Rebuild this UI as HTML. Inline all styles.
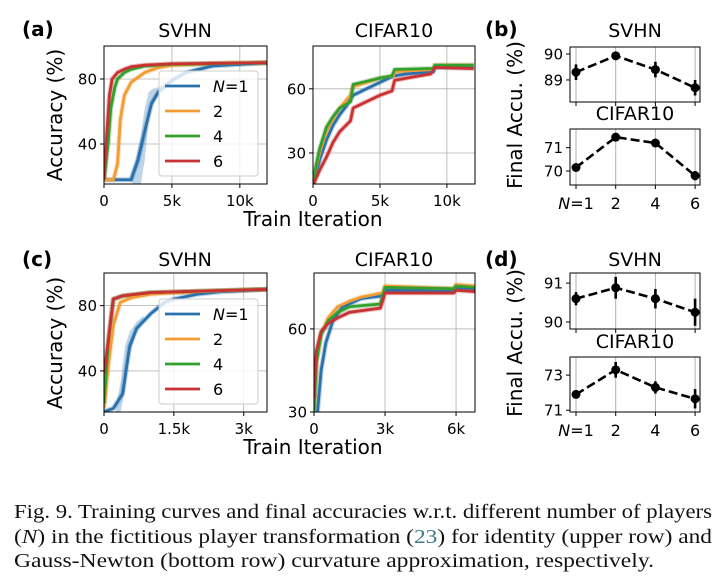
<!DOCTYPE html>
<html><head><meta charset="utf-8"><style>
html,body{margin:0;padding:0;background:#fff;}
svg{display:block;font-family:"DejaVu Sans","Liberation Sans",sans-serif;}
.cap{font-family:"Liberation Serif",serif;font-size:20px;fill:#111;}
</style></head><body>
<svg id="fig" width="726" height="583" viewBox="0 0 726 583" xmlns="http://www.w3.org/2000/svg">
<g id="plots"></g>
<text class="cap" x="14" y="518" textLength="698" lengthAdjust="spacingAndGlyphs">Fig. 9.   Training curves and final accuracies w.r.t. different number of players</text>
<text class="cap" x="14" y="543" textLength="698" lengthAdjust="spacingAndGlyphs">(<tspan font-style="italic">N</tspan>) in the fictitious player transformation (<tspan fill="#3b7a8a">23</tspan>) for identity (upper row) and</text>
<text class="cap" x="14" y="567" textLength="640" lengthAdjust="spacingAndGlyphs">Gauss-Newton (bottom row) curvature approximation, respectively.</text>
</svg>
<script>
const seriesNames=["N=1","2","4","6"];
const colors=["#2a72ad","#f39c34","#33a02c","#c93232"];
// (a) SVHN, x in k iterations
const aSvhn1=[[0,18],[1.5,18],[2,18],[2.5,30],[3,48],[3.5,65],[4,72],[5,79],[6,84],[8,88],[10,89],[12,90]];
const aSvhn2=[[0,18],[0.7,18],[1,28],[1.2,55],[1.5,70],[2,78],[3,84],[4,87],[5,88.5],[8,89.5],[12,90]];
const aSvhn4=[[0,18],[0.3,40],[0.5,62],[0.8,75],[1,80],[1.5,84],[2,86],[3,88],[5,89],[12,90]];
const aSvhn6=[[0,18],[0.2,45],[0.4,70],[0.6,80],[1,84],[1.5,86],[2,87.5],[3,88.5],[5,89.3],[12,90]];
// N=1 spread band: [x, low, high]
const aSvhn1Band=[[1.8,18,18],[2.3,15,30],[2.7,15,45],[3,30,62],[3.3,55,72],[3.6,64,74],[4,70,75],[4.5,76,78],[5,78,80]];
const aCifar1=[[0,15],[0.5,27],[1,36],[1.5,43],[2,48],[2.5,52],[3,57],[4,60],[5,63],[6,66],[7,67],[9,68],[9.1,70],[12,70]];
const aCifar2=[[0,17],[0.5,30],[1,40],[1.5,46],[2,51],[2.8,57],[3,61],[4,63],[5,65],[6,66],[6.1,68],[9,69],[9.1,71],[12,71]];
const aCifar4=[[0,17],[0.5,32],[1,42],[1.5,47],[2,51],[2.8,54],[3,62],[4,63.5],[5,65],[5.9,66],[6.1,69],[9,69.5],[9.1,71],[12,71]];
const aCifar6=[[0,15],[0.5,22],[1,28],[1.5,35],[2,40],[2.8,45],[3,51],[4,54],[5,57],[5.9,59],[6.1,64],[7,65],[8.8,67],[9.1,70],[12,69.5]];
const cSvhn1=[[0,15],[0.2,17],[0.4,26],[0.55,55],[0.7,66],[1,75],[1.3,82],[1.5,84],[2,87],[2.5,88.5],[3.5,90]];
const cSvhn2=[[0,17],[0.1,45],[0.2,68],[0.35,82],[0.6,85],[1,87],[1.5,88],[3.5,90]];
const cSvhn4=[[0,20],[0.1,60],[0.2,84],[0.4,86],[1,88],[3.5,90]];
const cSvhn6=[[0,38],[0.1,60],[0.2,84],[0.4,86],[1,88],[3.5,90]];
const cSvhn1Band=[[0.25,15,18],[0.35,14,32],[0.45,28,55],[0.55,50,64],[0.7,64,70],[0.85,70,74]];
const cCifar1=[[0.1,25],[0.3,45],[0.5,55],[0.8,63],[1.2,68],[2,71],[2.9,72],[3,74],[5.9,73.5],[6,75],[6.8,74.5]];
const cCifar2=[[0,30],[0.1,48],[0.3,58],[0.6,64],[1,68],[1.5,70],[2,71.5],[2.9,73],[3,75.5],[5.9,74.5],[6,76],[6.8,75.5]];
const cCifar4=[[0,30],[0.1,48],[0.3,58],[0.6,63],[1,66],[1.5,68],[2.8,69],[3,75],[5.9,74.5],[6,75.5],[6.8,75]];
const cCifar6=[[0,35],[0.1,52],[0.3,59],[0.6,62],[1,64],[1.5,66],[2.8,67.5],[3,73],[5.9,73],[6,74],[6.8,73.5]];
// final accuracy panels
const nLabels=["N=1","2","4","6"];
const bSvhnMean=[89.3,89.93,89.4,88.7], bSvhnErr=[0.3,0.15,0.3,0.3];
const bCifarMean=[70.15,71.45,71.2,69.8], bCifarErr=[0.08,0.12,0.1,0.2];
const dSvhnMean=[90.6,90.88,90.6,90.25], dSvhnErr=[0.17,0.28,0.25,0.35];
const dCifarMean=[71.9,73.3,72.3,71.65], dCifarErr=[0.1,0.45,0.35,0.55];

const NS="http://www.w3.org/2000/svg";
const root=document.getElementById('plots');
function el(tag,attrs,parent,text){const e=document.createElementNS(NS,tag);for(const k in attrs)e.setAttribute(k,attrs[k]);if(text!==undefined)e.textContent=text;(parent||root).appendChild(e);return e;}
function lin(d0,d1,r0,r1){return v=>r0+(v-d0)/(d1-d0)*(r1-r0);}

function linePanel(name,box,xd,yd,xticks,xtl,yticks,series,band){
  const g=el('g',{});
  
  
  const X=lin(xd[0],xd[1],box.x0,box.x1),Y=lin(yd[0],yd[1],box.y1,box.y0);
  const clipId=name+'-clip';
  const cp=el('clipPath',{id:clipId},g);el('rect',{x:box.x0,y:box.y0,width:box.x1-box.x0,height:box.y1-box.y0},cp);
  xticks.forEach((t,i)=>{
    const l=el('line',{x1:X(t),x2:X(t),y1:box.y0,y2:box.y1,stroke:'#b0b0b0','stroke-width':0.8},g);
    
    
    el('line',{x1:X(t),x2:X(t),y1:box.y1,y2:box.y1+4,stroke:'#000'},g);
    const tx=el('text',{x:X(t),y:box.y1+22,'text-anchor':'middle','font-size':15},g,xtl[i]);
    
    
  });
  yticks.forEach(t=>{
    const l=el('line',{x1:box.x0,x2:box.x1,y1:Y(t),y2:Y(t),stroke:'#b0b0b0','stroke-width':0.8},g);
    
    
    el('line',{x1:box.x0-4,x2:box.x0,y1:Y(t),y2:Y(t),stroke:'#000'},g);
    const tx=el('text',{x:box.x0-7,y:Y(t)+5.5,'text-anchor':'end','font-size':15},g,String(t));
    
    
  });
  const sg=el('g',{'clip-path':'url(#'+clipId+')'},g);
  if(band){
    const pts=band.map(b=>X(b[0])+','+Y(b[2])).concat(band.slice().reverse().map(b=>X(b[0])+','+Y(b[1]))).join(' ');
    const bp=el('polygon',{points:pts,fill:colors[0],'fill-opacity':0.3},sg);
    
    
  }
  series.forEach((s,i)=>{
    const pts=s.map(p=>X(p[0])+','+Y(p[1])).join(' ');
    const b=el('polyline',{points:pts,fill:'none',stroke:colors[i],'stroke-opacity':0.3,'stroke-width':5,'stroke-linejoin':'round'},sg);
    
    
  });
  series.forEach((s,i)=>{
    const pts=s.map(p=>X(p[0])+','+Y(p[1])).join(' ');
    const pl=el('polyline',{points:pts,fill:'none',stroke:colors[i],'stroke-width':2.8,'stroke-linejoin':'round'},sg);
    
    
  });
  const fr=el('rect',{x:box.x0,y:box.y0,width:box.x1-box.x0,height:box.y1-box.y0,fill:'none',stroke:'#000','stroke-width':1},g);
  
  
  return g;
}
function legend(x,y){
  const g=el('g',{});
  
  
  el('rect',{x:x,y:y,width:99,height:105,rx:3,fill:'#fff','fill-opacity':0.8,stroke:'#ccc'},g);
  seriesNames.forEach((n,i)=>{
    const yy=y+15+i*25;
    const e=el('g',{},g);
    
    
    el('line',{x1:x+6,x2:x+41,y1:yy,y2:yy,stroke:colors[i],'stroke-width':2.8},e);
    const t=el('text',{x:x+54,y:yy+6,'font-size':16},e);
    if(i===0){el('tspan',{'font-style':'italic'},t,'N');el('tspan',{},t,'=1');}else t.textContent=n;
  });
}
function txt(name,x,y,s,attrs){const t=el('text',Object.assign({x:x,y:y},attrs||{}),root,s);return t;}

// Row (a)
txt('panel-label-a',22,36,'(a)',{'font-size':20,'font-weight':'bold'});
txt('title-svhn-a',185,37,'SVHN',{'font-size':19,'text-anchor':'middle'});
txt('title-cifar10-a',394,37,'CIFAR10',{'font-size':19,'text-anchor':'middle'});
linePanel('svhn-curves-a',{x0:104,x1:267,y0:46,y1:184},[0,12],[15.4,100.3],[0,5,10],['0','5k','10k'],[40,80],[aSvhn1,aSvhn2,aSvhn4,aSvhn6],aSvhn1Band);
legend(159,71);
linePanel('cifar10-curves-a',{x0:313,x1:475,y0:46,y1:184},[0,12.1],[15.5,80],[0,5,10],['0','5k','10k'],[30,60],[aCifar1,aCifar2,aCifar4,aCifar6]);
txt('x-axis-title-a',313,226,'Train Iteration',{'font-size':20,'text-anchor':'middle'});
txt('y-axis-title-a',0,0,'Accuracy (%)',{'font-size':20,'text-anchor':'middle',transform:'translate(62,115) rotate(-90)'});

// Row (c)
txt('panel-label-c',22,266,'(c)',{'font-size':20,'font-weight':'bold'});
txt('title-svhn-c',185,266,'SVHN',{'font-size':19,'text-anchor':'middle'});
txt('title-cifar10-c',394,266,'CIFAR10',{'font-size':19,'text-anchor':'middle'});
linePanel('svhn-curves-c',{x0:104,x1:267,y0:273,y1:412},[0,3.5],[14.8,100],[0,1.5,3],['0','1.5k','3k'],[40,80],[cSvhn1,cSvhn2,cSvhn4,cSvhn6],cSvhn1Band);
legend(159,299);
linePanel('cifar10-curves-c',{x0:314,x1:475,y0:273,y1:412},[0,6.8],[30,80.2],[0,3,6],['0','3k','6k'],[30,60],[cCifar1,cCifar2,cCifar4,cCifar6]);
txt('x-axis-title-c',313,454,'Train Iteration',{'font-size':20,'text-anchor':'middle'});
txt('y-axis-title-c',0,0,'Accuracy (%)',{'font-size':20,'text-anchor':'middle',transform:'translate(62,343) rotate(-90)'});

// Final accuracy panels
function errPanel(name,box,yd,yticks,mean,err,showX){
  const g=el('g',{});
  
  
  const X=i=>576+i*39.7, Y=lin(yd[0],yd[1],box.y1,box.y0);
  nLabels.forEach((n,i)=>{
    el('line',{x1:X(i),x2:X(i),y1:box.y0,y2:box.y1,stroke:'#b0b0b0','stroke-width':1},g);
    el('line',{x1:X(i),x2:X(i),y1:box.y1,y2:box.y1+4,stroke:'#000'},g);
    if(showX){const t=el('text',{x:X(i),y:box.y1+24,'text-anchor':'middle','font-size':16},g);
      if(i===0){el('tspan',{'font-style':'italic'},t,'N');el('tspan',{},t,'=1');}else t.textContent=n;
      
      }
  });
  yticks.forEach(t=>{
    el('line',{x1:box.x0-4,x2:box.x0,y1:Y(t),y2:Y(t),stroke:'#000'},g);
    const tx=el('text',{x:box.x0-7,y:Y(t)+5.5,'text-anchor':'end','font-size':15},g,String(t));
    
    
  });
  const pl=el('polyline',{points:mean.map((m,i)=>X(i)+','+Y(m)).join(' '),fill:'none',stroke:'#000','stroke-width':2.6,'stroke-dasharray':'9,4'},g);
  
  
  mean.forEach((m,i)=>{
    const e=el('line',{x1:X(i),x2:X(i),y1:Y(m-err[i]),y2:Y(m+err[i]),stroke:'#000','stroke-width':2.6},g);
    
    
    const c=el('circle',{cx:X(i),cy:Y(m),r:4.5,fill:'#000'},g);
    
    
  });
  el('rect',{x:box.x0,y:box.y0,width:box.x1-box.x0,height:box.y1-box.y0,fill:'none',stroke:'#000'},g);
}
txt('panel-label-b',485,36,'(b)',{'font-size':20,'font-weight':'bold'});
txt('title-svhn-b',635,37,'SVHN',{'font-size':19,'text-anchor':'middle'});
errPanel('svhn-final-b',{x0:570,x1:700,y0:47,y1:102},[88.15,90.27],[89,90],bSvhnMean,bSvhnErr,false);
txt('title-cifar10-b',635,120,'CIFAR10',{'font-size':19,'text-anchor':'middle'});
errPanel('cifar10-final-b',{x0:570,x1:700,y0:129,y1:185},[69.4,71.8],[70,71],bCifarMean,bCifarErr,true);
txt('y-axis-title-b',0,0,'Final Accu. (%)',{'font-size':20,'text-anchor':'middle',transform:'translate(522,115) rotate(-90)'});

txt('panel-label-d',485,266,'(d)',{'font-size':20,'font-weight':'bold'});
txt('title-svhn-d',635,266,'SVHN',{'font-size':19,'text-anchor':'middle'});
errPanel('svhn-final-d',{x0:570,x1:700,y0:273,y1:329},[89.82,91.26],[90,91],dSvhnMean,dSvhnErr,false);
txt('title-cifar10-d',635,348,'CIFAR10',{'font-size':19,'text-anchor':'middle'});
errPanel('cifar10-final-d',{x0:570,x1:700,y0:357,y1:412},[70.9,74.03],[71,73],dCifarMean,dCifarErr,true);
txt('y-axis-title-d',0,0,'Final Accu. (%)',{'font-size':20,'text-anchor':'middle',transform:'translate(522,343) rotate(-90)'});
</script>
</body></html>
